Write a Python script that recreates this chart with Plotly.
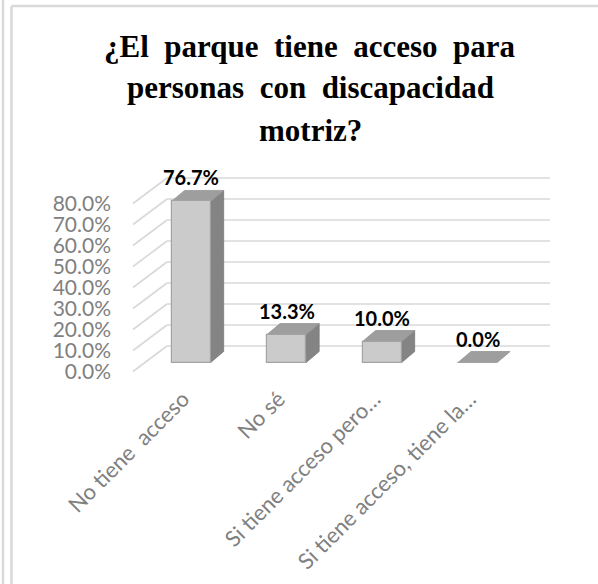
import plotly.graph_objects as go

# ---------------- data ----------------
categories = ["No tiene\u00a0 acceso", "No sé", "Si tiene acceso pero…", "Si tiene acceso, tiene la…"]
values = [0.767, 0.133, 0.100, 0.000]
value_labels = ["76.7%", "13.3%", "10.0%", "0.0%"]
y_ticks = [0.0, 0.1, 0.2, 0.3, 0.4, 0.5, 0.6, 0.7, 0.8]
title_lines = ["¿El parque tiene acceso para", "personas con discapacidad", "motriz?"]

# ---------------- layout geometry ----------------
W, H = 598, 584
ML, MR, MT, MB = 129, 44, 163, 211
PW, PH = W - ML - MR, H - MT - MB
XR = [-0.65, 3.8]
YR = [-0.05, 0.95]
pxx = PW / (XR[1] - XR[0])   # pixels per category unit
pxy = PH / (YR[1] - YR[0])   # pixels per value unit

BAR_W = 0.41
DX, DY = 13 / pxx, 11 / pxy          # bar depth offset
WF_X = XR[0] + 4 / pxx                # side wall front edge
WB_X = WF_X + 34 / pxx                # back wall left edge
WR_X = XR[1] - 4 / pxx                # back wall right edge
F_DY = -9 / pxy                       # front edge offset
B_DY = 16.5 / pxy                     # back wall offset

GRID = "#d9d9d9"
FRONT = "#cbcbcb"
SIDE = "#848484"
TOP = "#9e9e9e"
EDGE = "#a3a3a3"

def ppx(px):
    return (px - ML) / PW

def ppy(py):
    return 1 - (py - MT) / PH

shapes = []
# frame
shapes.append(dict(type="line", xref="paper", yref="paper", x0=ppx(3), x1=ppx(3), y0=ppy(0), y1=ppy(H),
                   line=dict(color="#d9d9d9", width=2.5), layer="below"))
shapes.append(dict(type="line", xref="paper", yref="paper", x0=ppx(11.5), x1=ppx(11.5), y0=ppy(6), y1=ppy(H),
                   line=dict(color="#d9d9d9", width=2.5), layer="below"))
shapes.append(dict(type="line", xref="paper", yref="paper", x0=ppx(11.5), x1=ppx(W), y0=ppy(6), y1=ppy(6),
                   line=dict(color="#d9d9d9", width=2.5), layer="below"))

# walls gridlines
for t in y_ticks:
    shapes.append(dict(type="line", xref="x", yref="y", x0=WF_X, y0=t + F_DY, x1=WB_X, y1=t + B_DY,
                       line=dict(color=GRID, width=1.6), layer="below"))
    shapes.append(dict(type="line", xref="x", yref="y", x0=WB_X, y0=t + B_DY, x1=WR_X, y1=t + B_DY,
                       line=dict(color=GRID, width=1.6), layer="below"))

# 3D faces of bars
for i, v in enumerate(values):
    x0, x1 = i - BAR_W / 2, i + BAR_W / 2
    side = f"M {x1},0 L {x1 + DX},{DY} L {x1 + DX},{v + DY} L {x1},{v} Z"
    top = f"M {x0},{v} L {x1},{v} L {x1 + DX},{v + DY} L {x0 + DX},{v + DY} Z"
    if v > 0:
        shapes.append(dict(type="path", xref="x", yref="y", path=side, fillcolor=SIDE,
                           line=dict(color="#7a7a7a", width=0.8), layer="below"))
    shapes.append(dict(type="path", xref="x", yref="y", path=top, fillcolor=TOP,
                       line=dict(color="#959595", width=0.8), layer="below"))

fig = go.Figure()
fig.add_trace(go.Bar(
    x=list(range(len(categories))), y=values, width=BAR_W,
    marker=dict(color=FRONT, line=dict(color=EDGE, width=1.2)),
    hoverinfo="skip", showlegend=False,
))

annotations = []
for i, (v, lab) in enumerate(zip(values, value_labels)):
    annotations.append(dict(x=i, y=v, xref="x", yref="y", text=f"<b>{lab}</b>", showarrow=False,
                            yshift=24, font=dict(family="Lato", size=20, color="#000000")))

title_centers = [46, 88, 130]
for line, cy in zip(title_lines, title_centers):
    txt = line.replace(" ", "\u00a0 ")
    annotations.append(dict(x=ppx(310), y=ppy(cy), xref="paper", yref="paper", text=f"<b>{txt}</b>",
                            showarrow=False, xanchor="center", yanchor="middle",
                            font=dict(family="Liberation Serif, Times New Roman, DejaVu Serif, serif",
                                      size=31, color="#000000")))

fig.update_layout(
    width=W, height=H,
    margin=dict(l=ML, r=MR, t=MT, b=MB, autoexpand=False),
    paper_bgcolor="white", plot_bgcolor="rgba(0,0,0,0)",
    shapes=shapes, annotations=annotations,
    xaxis=dict(range=XR, tickmode="array", tickvals=list(range(len(categories))), ticktext=categories,
               tickangle=-45, showgrid=False, zeroline=False, showline=False, ticks="",
               tickfont=dict(family="Lato", size=22, color="#808080"), ticklabelstandoff=8,
               ticklabelshift=-8, fixedrange=True),
    yaxis=dict(range=YR, tickmode="array", tickvals=y_ticks, tickformat=".1%",
               showgrid=False, zeroline=False, showline=False, ticks="",
               tickfont=dict(family="Lato", size=21, color="#808080"),
               ticklabelshift=9, ticklabelstandoff=17, fixedrange=True),
    bargap=0,
)

fig.write_html("out.html", config={"displayModeBar": False},
               post_script="document.body.style.margin='0px';document.body.style.overflow='hidden';")
